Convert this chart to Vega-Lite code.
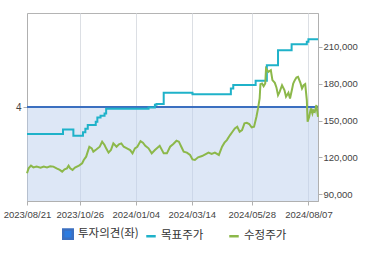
{
  "$schema": "https://vega.github.io/schema/vega-lite/v6.json",
  "autosize": {"type": "none"},
  "width": 291,
  "height": 188,
  "padding": {"left": 27, "top": 13, "right": 52, "bottom": 54},
  "background": "white",
  "config": {
    "view": {"stroke": "#b4b4b4", "strokeWidth": 1},
    "axis": {"labelFont": "Liberation Sans", "labelColor": "#444", "domainColor": "#b0b0b0", "tickColor": "#b0b0b0", "tickSize": 4, "title": null}
  },
  "datasets": {
    "opinion": [{"date": "2023-08-21", "v": 4}, {"date": "2024-08-19", "v": 4}],
    "target": [
      {"date": "2023-08-21", "price": 139000}, {"date": "2023-10-05", "price": 142800}, {"date": "2023-10-18", "price": 137700},
      {"date": "2023-10-30", "price": 140400}, {"date": "2023-11-02", "price": 143400}, {"date": "2023-11-05", "price": 146300},
      {"date": "2023-11-15", "price": 149000}, {"date": "2023-11-17", "price": 152600}, {"date": "2023-11-21", "price": 153900},
      {"date": "2023-11-26", "price": 155800}, {"date": "2023-11-28", "price": 159600}, {"date": "2024-01-20", "price": 160700},
      {"date": "2024-01-28", "price": 162900}, {"date": "2024-01-30", "price": 163400}, {"date": "2024-02-08", "price": 172600},
      {"date": "2024-03-15", "price": 171500}, {"date": "2024-05-02", "price": 176100}, {"date": "2024-05-05", "price": 178900},
      {"date": "2024-06-02", "price": 182400}, {"date": "2024-06-16", "price": 195100}, {"date": "2024-06-30", "price": 207300},
      {"date": "2024-07-17", "price": 212200}, {"date": "2024-08-05", "price": 214100}, {"date": "2024-08-07", "price": 216200},
      {"date": "2024-08-19", "price": 216200}
    ],
    "stock": [
      {"date": "2023-08-21", "price": 107100}, {"date": "2023-08-23", "price": 111100}, {"date": "2023-08-26", "price": 113300},
      {"date": "2023-08-29", "price": 111900}, {"date": "2023-09-02", "price": 112500}, {"date": "2023-09-07", "price": 111700},
      {"date": "2023-09-11", "price": 112500}, {"date": "2023-09-15", "price": 111900}, {"date": "2023-09-19", "price": 112700},
      {"date": "2023-09-23", "price": 112500}, {"date": "2023-09-27", "price": 111100}, {"date": "2023-10-01", "price": 109800},
      {"date": "2023-10-04", "price": 108400}, {"date": "2023-10-07", "price": 110300}, {"date": "2023-10-10", "price": 111100},
      {"date": "2023-10-12", "price": 113300}, {"date": "2023-10-14", "price": 111100}, {"date": "2023-10-17", "price": 109800},
      {"date": "2023-10-20", "price": 111700}, {"date": "2023-10-25", "price": 113300}, {"date": "2023-10-29", "price": 115200},
      {"date": "2023-10-31", "price": 117900}, {"date": "2023-11-03", "price": 120600}, {"date": "2023-11-05", "price": 124700},
      {"date": "2023-11-07", "price": 128700}, {"date": "2023-11-10", "price": 127400}, {"date": "2023-11-12", "price": 124700},
      {"date": "2023-11-16", "price": 126600}, {"date": "2023-11-20", "price": 128700}, {"date": "2023-11-23", "price": 132800},
      {"date": "2023-11-26", "price": 130100}, {"date": "2023-11-28", "price": 127400}, {"date": "2023-12-01", "price": 123900},
      {"date": "2023-12-04", "price": 126000}, {"date": "2023-12-07", "price": 131400}, {"date": "2023-12-11", "price": 128700},
      {"date": "2023-12-14", "price": 130600}, {"date": "2023-12-17", "price": 131400}, {"date": "2023-12-20", "price": 128700},
      {"date": "2023-12-24", "price": 127400}, {"date": "2023-12-28", "price": 126000}, {"date": "2023-12-31", "price": 123300},
      {"date": "2024-01-03", "price": 127400}, {"date": "2024-01-06", "price": 128700}, {"date": "2024-01-10", "price": 133300},
      {"date": "2024-01-13", "price": 132000}, {"date": "2024-01-16", "price": 129500}, {"date": "2024-01-20", "price": 127400},
      {"date": "2024-01-24", "price": 123300}, {"date": "2024-01-28", "price": 126000}, {"date": "2024-02-03", "price": 129500},
      {"date": "2024-02-08", "price": 123300}, {"date": "2024-02-12", "price": 123300}, {"date": "2024-02-16", "price": 128700},
      {"date": "2024-02-20", "price": 130900}, {"date": "2024-02-24", "price": 133600}, {"date": "2024-02-27", "price": 132800},
      {"date": "2024-03-01", "price": 128700}, {"date": "2024-03-04", "price": 124700}, {"date": "2024-03-08", "price": 123900},
      {"date": "2024-03-12", "price": 122000}, {"date": "2024-03-15", "price": 118400}, {"date": "2024-03-18", "price": 117900},
      {"date": "2024-03-22", "price": 120100}, {"date": "2024-03-27", "price": 121100}, {"date": "2024-03-31", "price": 122500},
      {"date": "2024-04-04", "price": 123900}, {"date": "2024-04-08", "price": 122800}, {"date": "2024-04-12", "price": 123900},
      {"date": "2024-04-17", "price": 122000}, {"date": "2024-04-21", "price": 128700}, {"date": "2024-04-24", "price": 132000},
      {"date": "2024-04-27", "price": 134100}, {"date": "2024-05-01", "price": 138200}, {"date": "2024-05-04", "price": 140900},
      {"date": "2024-05-07", "price": 143600}, {"date": "2024-05-10", "price": 145000}, {"date": "2024-05-13", "price": 140900},
      {"date": "2024-05-16", "price": 142300}, {"date": "2024-05-19", "price": 147700}, {"date": "2024-05-22", "price": 148200},
      {"date": "2024-05-25", "price": 147200}, {"date": "2024-05-28", "price": 144400}, {"date": "2024-05-31", "price": 145000},
      {"date": "2024-06-03", "price": 153100}, {"date": "2024-06-05", "price": 159900}, {"date": "2024-06-07", "price": 168000},
      {"date": "2024-06-08", "price": 179700}, {"date": "2024-06-10", "price": 180200}, {"date": "2024-06-12", "price": 178000},
      {"date": "2024-06-14", "price": 180200}, {"date": "2024-06-15", "price": 192400}, {"date": "2024-06-18", "price": 189700},
      {"date": "2024-06-21", "price": 191000}, {"date": "2024-06-23", "price": 182900}, {"date": "2024-06-26", "price": 180700},
      {"date": "2024-06-28", "price": 177000}, {"date": "2024-06-30", "price": 170700}, {"date": "2024-07-02", "price": 173400},
      {"date": "2024-07-05", "price": 178800}, {"date": "2024-07-08", "price": 174800}, {"date": "2024-07-10", "price": 169400},
      {"date": "2024-07-13", "price": 172600}, {"date": "2024-07-15", "price": 168000}, {"date": "2024-07-18", "price": 177000},
      {"date": "2024-07-19", "price": 180200}, {"date": "2024-07-21", "price": 182900}, {"date": "2024-07-23", "price": 185100},
      {"date": "2024-07-25", "price": 185600}, {"date": "2024-07-28", "price": 180700}, {"date": "2024-07-30", "price": 176100},
      {"date": "2024-08-01", "price": 178800}, {"date": "2024-08-03", "price": 179700}, {"date": "2024-08-05", "price": 166700},
      {"date": "2024-08-06", "price": 149000}, {"date": "2024-08-08", "price": 153100}, {"date": "2024-08-10", "price": 159900},
      {"date": "2024-08-12", "price": 155800}, {"date": "2024-08-13", "price": 158500}, {"date": "2024-08-15", "price": 157200},
      {"date": "2024-08-17", "price": 162600}, {"date": "2024-08-19", "price": 153100}
    ]
  },
  "encoding": {
    "x": {
      "field": "date", "type": "temporal",
      "scale": {"type": "utc", "domain": [{"year": 2023, "month": 8, "date": 21, "utc": true}, {"year": 2024, "month": 8, "date": 19, "utc": true}]},
      "axis": {
        "values": [
          {"year": 2023, "month": 8, "date": 21, "utc": true},
          {"year": 2023, "month": 10, "date": 26, "utc": true},
          {"year": 2024, "month": 1, "date": 4, "utc": true},
          {"year": 2024, "month": 3, "date": 14, "utc": true},
          {"year": 2024, "month": 5, "date": 28, "utc": true},
          {"year": 2024, "month": 8, "date": 7, "utc": true}
        ],
        "labelExpr": "utcFormat(datum.value, '%Y/%m/%d')",
        "grid": true, "gridColor": "#dcdfe4", "labelFontSize": 9.5, "labelPadding": 4,
        "labelOverlap": false, "labelBound": false, "labelFlush": false
      }
    }
  },
  "layer": [
    {
      "layer": [
        {
          "data": {"name": "opinion"},
          "mark": {"type": "area", "fill": "#bbcfed", "fillOpacity": 0.5},
          "encoding": {
            "y": {"field": "v", "type": "quantitative", "scale": {"domain": [0, 8], "nice": false, "zero": true},
              "axis": {"orient": "left", "values": [4], "grid": false, "labelFontSize": 10, "labelPadding": 2}}
          }
        },
        {
          "data": {"name": "opinion"},
          "mark": {"type": "line", "strokeWidth": 2.2},
          "encoding": {
            "y": {"field": "v", "type": "quantitative"},
            "color": {"datum": "투자의견(좌)", "type": "nominal",
              "scale": {"domain": ["투자의견(좌)", "목표주가", "수정주가"], "range": ["#3b6fc0", "#1fb2c9", "#8cb84a"]},
              "legend": {
                "orient": "none", "legendX": 35, "legendY": 215, "direction": "horizontal", "columns": 3,
                "gridAlign": "all", "columnPadding": 2, "title": null, "padding": 0,
                "labelFont": "Noto Sans CJK KR", "labelFontSize": 11.5, "labelColor": "#333", "labelOffset": 4,
                "symbolSize": 90, "symbolStrokeWidth": 2.5,
                "encode": {"symbols": {"update": {
                  "shape": {"signal": "datum.value === '투자의견(좌)' ? 'square' : 'stroke'"},
                  "fill": {"signal": "datum.value === '투자의견(좌)' ? '#2c7be0' : 'transparent'"},
                  "stroke": {"signal": "datum.value === '투자의견(좌)' ? 'transparent' : scale('color', datum.value)"},
                  "opacity": {"value": 1}
                }}}
              }
            }
          }
        }
      ]
    },
    {
      "layer": [
        {
          "data": {"name": "target"},
          "mark": {"type": "line", "interpolate": "step-after", "strokeWidth": 2},
          "encoding": {
            "y": {"field": "price", "type": "quantitative", "scale": {"domain": [84500, 237600], "nice": false, "zero": false},
              "axis": {"orient": "right", "values": [90000, 120000, 150000, 180000, 210000], "labelExpr": "format(datum.value, ',')", "grid": false, "labelFontSize": 9.5, "labelPadding": 1}},
            "color": {"datum": "목표주가", "type": "nominal"}
          }
        },
        {
          "data": {"name": "stock"},
          "mark": {"type": "line", "strokeWidth": 2},
          "encoding": {
            "y": {"field": "price", "type": "quantitative"},
            "color": {"datum": "수정주가", "type": "nominal"}
          }
        }
      ]
    }
  ],
  "resolve": {"scale": {"y": "independent"}}
}
